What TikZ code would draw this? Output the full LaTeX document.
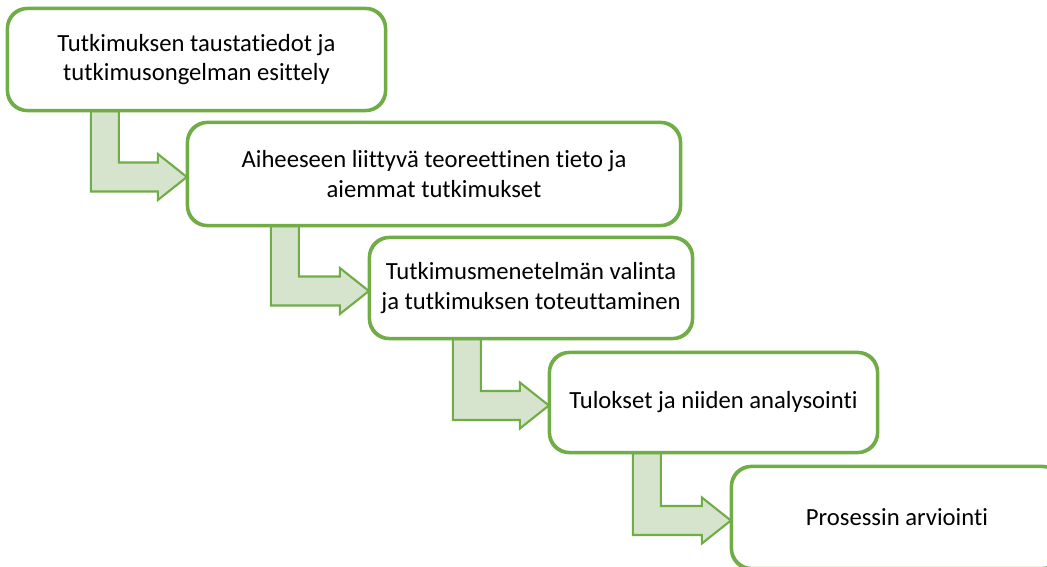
\documentclass[tikz,border=0pt]{standalone}
\usepackage{fontspec}
\setmainfont[Ligatures=NoCommon]{Carlito}
\usepackage{xcolor}
\usetikzlibrary{calc, shapes, arrows}
\definecolor{boxgreen}{HTML}{70AD47}
\definecolor{arrowfill}{HTML}{D6E4CE}

\begin{document}
\begin{tikzpicture}[x=0.75pt,y=-0.75pt,
		phasebox/.style={draw=boxgreen, line width=1.7pt, fill=white, rounded corners=15pt,
			align=center, inner sep=0pt, font=\fontsize{18.5}{22}\selectfont},
		arrowbody/.style={draw=boxgreen, line width=1.6pt, fill=arrowfill, line join=miter}]
				\newcommand{\bentarrow}[2]{
					\coordinate (#1s1) at ($(#1.south west)+(84,0)$);
					\coordinate (#1s2) at ($(#1.south west)+(112,0)$);
					\coordinate (#1tip) at ($(#2.west)+(0,3)$);
					\draw[arrowbody] (#1s1) -- (#1s2) -- ($(#1s2 |- #1tip)+(0,-14.5)$)
						-- ($(#1tip)+(-29,-14.5)$) -- ($(#1tip)+(-29,-23)$) -- (#1tip)
						-- ($(#1tip)+(-29,23)$) -- ($(#1tip)+(-29,14.5)$)
						-- ($(#1s1 |- #1tip)+(0,14.5)$) -- cycle;
				}%Frame of the picture
				\useasboundingbox (0,0) rectangle (1047,567);
				\clip (0,0) rectangle (1047,567);
				%Centers of the boxes
				\coordinate (center1) at (196.5,59.5);
				\coordinate (center2) at (434,174);
				\coordinate (center3) at (531,288);
				\coordinate (center4) at (713.5,402.5);
				\coordinate (center5) at (897,517.5);
				%Phases of the research
				\node [phasebox, minimum width=282.75pt, minimum height=75.75pt] (box1) at (center1)
					{Tutkimuksen taustatiedot ja\\tutkimusongelman esittely};
				\node [phasebox, minimum width=369pt, minimum height=76.5pt] (box2) at (center2)
					{Aiheeseen liittyvä teoreettinen tieto ja\\aiemmat tutkimukset};
				\node [phasebox, minimum width=241.5pt, minimum height=75pt] (box3) at (center3)
					{Tutkimusmenetelmän valinta\\ja tutkimuksen toteuttaminen};
				\node [phasebox, minimum width=245.25pt, minimum height=74.25pt] (box4) at (center4)
					{Tulokset ja niiden analysointi};
				\node [phasebox, minimum width=247.5pt, minimum height=75.75pt] (box5) at (center5)
					{Prosessin arviointi};
				%Bent arrows between the boxes
				\bentarrow{box1}{box2}
				\bentarrow{box2}{box3}
				\bentarrow{box3}{box4}
				\bentarrow{box4}{box5}
				%Box borders again on top of the arrow ends
				\foreach \b in {1,...,5} {
					\draw [draw=boxgreen, line width=1.7pt, rounded corners=15pt]
						(box\b.south west) rectangle (box\b.north east);
				}
\end{tikzpicture}
\end{document}
